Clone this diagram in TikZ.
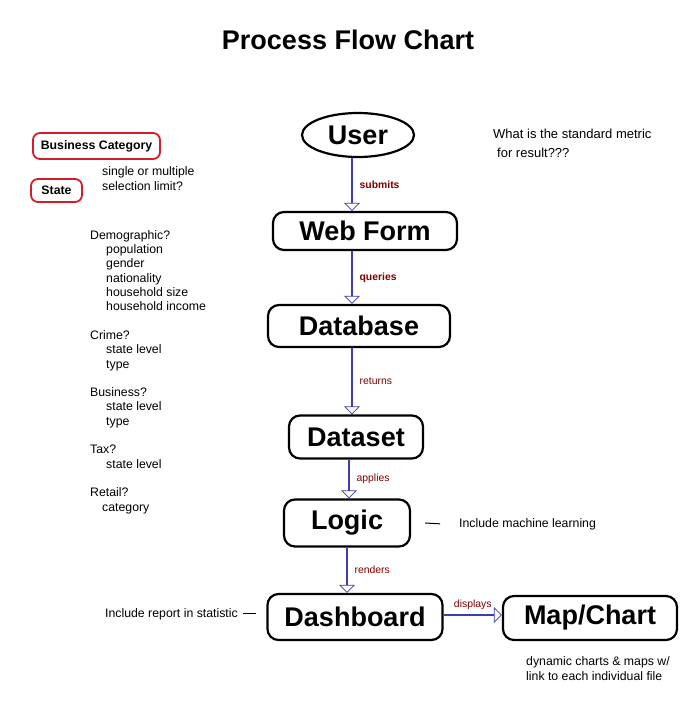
\documentclass[tikz,border=0pt]{standalone}
\usepackage{fontspec}
\setmainfont{Liberation Sans}
\usetikzlibrary{arrows.meta,shapes.geometric}
\definecolor{flowblue}{RGB}{60,60,180}
\definecolor{verbred}{RGB}{128,0,0}
\definecolor{tagred}{RGB}{210,30,40}

\begin{document}
\begin{tikzpicture}[x=1pt,y=-1pt,
	every node/.style={font=\fontsize{12.3}{14.3}\selectfont},
	stage/.style={draw, line width=2.2pt, rounded corners=11pt, inner sep=0pt,
		font=\fontsize{27}{30}\selectfont\bfseries},
	flow/.style={draw=flowblue, line width=2.6pt,
		-{Triangle[open, length=8pt, width=16pt, line width=0.8pt]}},
	verb/.style={text=verbred, font=\fontsize{10.4}{12}\selectfont},
	tag/.style={draw=tagred, line width=1.8pt, rounded corners=7pt, inner sep=0pt,
		font=\fontsize{12.3}{14}\selectfont\bfseries},
	note/.style={align=left, anchor=base west, inner xsep=0pt}]
	\useasboundingbox[fill=white] (0,0) rectangle (700,704);
	% title
	\node[font=\fontsize{27}{30}\selectfont\bfseries] (title) at (348,40) {Process Flow Chart};
	% main stages
	\node[stage, ellipse, rounded corners=0pt, minimum width=112pt, minimum height=44pt] (user) at (358,135) {User};
	\node[stage, minimum width=184pt, minimum height=38pt] (webform) at (365,231) {Web Form};
	\node[stage, minimum width=182pt, minimum height=42pt] (database) at (359,326) {Database};
	\node[stage, minimum width=134pt, minimum height=43pt] (dataset) at (356,437) {Dataset};
	\node[stage, minimum width=126pt, minimum height=47pt] (logic) at (347,523) {Logic};
	\node[stage, minimum width=175pt, minimum height=46pt] (dashboard) at (355,617) {Dashboard};
	\node[stage, minimum width=174pt, minimum height=44pt] (mapchart) at (590,618) {Map/Chart};
	% connectors
	\draw[flow] ([xshift=-6pt]user.south) -- node[verb, right=3pt] {\bfseries submits} ([xshift=-6pt]user.south |- webform.north);
	\draw[flow] ([xshift=-13pt]webform.south) -- node[verb, right=3pt] {\bfseries queries} ([xshift=-13pt]webform.south |- database.north);
	\draw[flow] ([xshift=-7pt]database.south) -- node[verb, right=3pt] {returns} ([xshift=-7pt]database.south |- dataset.north);
	\draw[flow] ([xshift=-7pt]dataset.south) -- node[verb, right=3pt] {applies} ([xshift=-7pt]dataset.south |- logic.north);
	\draw[flow] (logic.south) -- node[verb, right=3pt] {renders} (logic.south |- dashboard.north);
	\draw[flow] ([yshift=2pt]dashboard.east) -- node[verb, above=1pt] {displays} ([yshift=2pt]dashboard.east -| mapchart.west);
	% selection boxes
	\node[tag, minimum width=127pt, minimum height=26pt] (category) at (96.5,146) {Business Category};
	\node[tag, minimum width=51pt, minimum height=23pt] (state) at (56.5,190.5) {State};
	\node[note] (limit) at (102,190) {single or multiple\\selection limit?};
	% data options
	\node[note] (options) at (90,511) {Demographic?\\
		\hspace*{16pt}population\\
		\hspace*{16pt}gender\\
		\hspace*{16pt}nationality\\
		\hspace*{16pt}household size\\
		\hspace*{16pt}household income\\[14.3pt]
		Crime?\\
		\hspace*{16pt}state level\\
		\hspace*{16pt}type\\[14.3pt]
		Business?\\
		\hspace*{16pt}state level\\
		\hspace*{16pt}type\\[14.3pt]
		Tax?\\
		\hspace*{16pt}state level\\[14.3pt]
		Retail?\\
		\hspace*{12pt}category};
	% remarks
	\node[note, font=\fontsize{13}{19}\selectfont] (metric) at (493,157) {What is the standard metric\\\hspace*{4pt}for result???};
	\node[note] (mlnote) at (459,527) {Include machine learning};
	\draw[line width=1pt] ([xshift=14pt]logic.east) -- ([xshift=-19pt]mlnote.west);
	\node[note, anchor=base east] (report) at (238,617) {Include report in statistic};
	\draw[line width=1pt] ([xshift=5pt]report.east) -- ([xshift=-10pt]report.east -| dashboard.west);
	\node[note, font=\fontsize{12.3}{15}\selectfont] (charts) at (526,680) {dynamic charts \& maps w/\\link to each individual file};
\end{tikzpicture}
\end{document}
